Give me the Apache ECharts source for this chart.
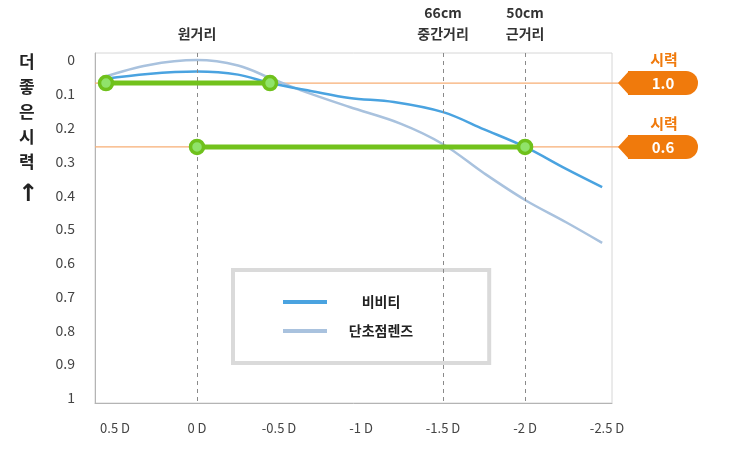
<!DOCTYPE html>
<html>
<head>
<meta charset="utf-8">
<script src="https://cdn.jsdelivr.net/npm/echarts@6/dist/echarts.min.js"></script>
<style>
  html, body { margin: 0; padding: 0; background: #fff; }
  #chart { width: 730px; height: 460px; }
</style>
</head>
<body>
<div id="chart"></div>
<script>
// 곡선 데이터 (x: 디옵터, y: 시력 눈금)
const bbtX = [0.57, 0.3, 0, -0.25, -0.445, -0.7, -0.93, -1.2, -1.5, -1.75, -2, -2.25, -2.47]
const bbtY = [0.056, 0.041, 0.034, 0.043, 0.068, 0.092, 0.112, 0.124, 0.154, 0.205, 0.257, 0.322, 0.376]
const monoX = [0.57, 0.3, 0, -0.25, -0.445, -0.63, -0.93, -1.24, -1.5, -1.75, -2, -2.25, -2.47]
const monoY = [0.05, 0.015, 0, 0.016, 0.053, 0.089, 0.139, 0.188, 0.249, 0.335, 0.414, 0.48, 0.541]

// 초록 구간
const rangeFarX = [0.555, -0.445]
const rangeNearX = [0, -2]

// 시력 기준선
const levelValues = [0.068, 0.257]
const levelLabels = ['1.0', '0.6']

// 눈금
const xTickValues = [0.5, 0, -0.5, -1, -1.5, -2, -2.5]
const xTickLabels = ['0.5 D', '0 D', '-0.5 D', '-1 D', '-1.5 D', '-2 D', '-2.5 D']
const yTickValues = [0, 0.1, 0.2, 0.3, 0.4, 0.5, 0.6, 0.7, 0.8, 0.9, 1]
const yTickLabels = ['0', '0.1', '0.2', '0.3', '0.4', '0.5', '0.6', '0.7', '0.8', '0.9', '1']
const distValues = [0, -1.5, -2]
const distLabels = ['원거리', '66cm\n중간거리', '50cm\n근거리']

const seriesNames = ['비비티', '단초점렌즈']

const FONT = '"Noto Sans CJK KR", "Noto Sans", sans-serif'
const ORANGE = '#f07a0c'

const zip = (xs, ys) => xs.map((x, i) => [x, ys[i]])
const labelOf = (vals, labels) => v => {
  const i = vals.findIndex(t => Math.abs(t - v) < 1e-6)
  return i < 0 ? '' : labels[i]
}

const chart = echarts.init(document.getElementById('chart'))

const option = {
  animation: false,
  textStyle: { fontFamily: FONT },
  title: [
    {
      text: '더\n좋\n은\n시\n력',
      left: 14, top: 44,
      textStyle: { fontSize: 17, fontWeight: 'bold', color: '#222', lineHeight: 25, fontFamily: FONT }
    },
    {
      text: '↑',
      left: 13, top: 178,
      textStyle: { fontSize: 24, fontWeight: 'bold', color: '#222', fontFamily: 'DejaVu Sans' }
    }
  ],
  grid: {
    left: 95, right: 118, top: 53, bottom: 57,
    show: true, borderColor: '#d6d6d6', borderWidth: 1
  },
  legend: {
    data: seriesNames,
    orient: 'vertical',
    left: 233, top: 270,
    padding: [25, 76, 25, 50],
    borderColor: '#dadada', borderWidth: 4,
    backgroundColor: '#fff',
    icon: 'rect',
    itemWidth: 44, itemHeight: 4, itemGap: 15,
    formatter: name => '{c|' + name + '}',
    textStyle: {
      fontSize: 14, fontWeight: 'bold', color: '#222', fontFamily: FONT,
      rich: { c: { width: 98, align: 'center', fontSize: 14, fontWeight: 'bold', color: '#222', fontFamily: FONT } }
    }
  },
  xAxis: [
    {
      type: 'value', inverse: true, min: -2.53, max: 0.622,
      axisLine: { onZero: false, lineStyle: { color: '#b4b4b4' } },
      axisTick: { show: false },
      splitLine: { show: false },
      axisLabel: {
        customValues: xTickValues,
        formatter: labelOf(xTickValues, xTickLabels),
        color: '#444', fontSize: 13, margin: 19
      }
    },
    {
      type: 'value', inverse: true, min: -2.53, max: 0.622, position: 'top',
      axisLine: { show: false, onZero: false },
      axisTick: { show: false },
      splitLine: { show: false },
      axisLabel: {
        customValues: distValues,
        formatter: labelOf(distValues, distLabels),
        color: '#333', fontSize: 14, fontWeight: 'bold', lineHeight: 21, margin: 9
      }
    }
  ],
  yAxis: {
    type: 'value', inverse: true, min: -0.021, max: 1.015,
    axisLine: { show: true, onZero: false, lineStyle: { color: '#b4b4b4' } },
    axisTick: { show: false },
    splitLine: { show: false },
    axisLabel: {
      customValues: yTickValues,
      formatter: labelOf(yTickValues, yTickLabels),
      color: '#444', fontSize: 14, margin: 20
    }
  },
  series: [
    {
      // 기준선 + 오른쪽 시력 태그
      type: 'custom',
      clip: false,
      silent: true,
      z: 1,
      data: levelValues.map((v, i) => [0, v, i]),
      renderItem(params, api) {
        const cs = params.coordSys
        const y = api.coord([0, api.value(1)])[1]
        const xR = cs.x + cs.width
        const label = levelLabels[api.value(2)]
        return {
          type: 'group',
          children: [
            { type: 'line', shape: { x1: cs.x, y1: y, x2: xR + 8, y2: y }, style: { stroke: '#f7ae74', lineWidth: 1.2 } },
            { type: 'polygon', shape: { points: [[xR + 6, y], [xR + 17, y - 12], [xR + 17, y + 12]] }, style: { fill: ORANGE } },
            { type: 'rect', shape: { x: xR + 16, y: y - 12, width: 70, height: 24, r: [0, 12, 12, 0] }, style: { fill: ORANGE } },
            { type: 'text', style: { x: xR + 51, y: y, text: label, fill: '#fff', font: 'bold 15px ' + FONT, align: 'center', verticalAlign: 'middle' } },
            { type: 'text', style: { x: xR + 52, y: y - 24, text: '시력', fill: ORANGE, font: 'bold 15px ' + FONT, align: 'center', verticalAlign: 'middle' } }
          ]
        }
      }
    },
    {
      name: seriesNames[0],
      type: 'line',
      smooth: 0.35,
      showSymbol: false,
      z: 3,
      data: zip(bbtX, bbtY),
      lineStyle: { color: '#4aa3e0', width: 2.5 },
      itemStyle: { color: '#4aa3e0' },
      markLine: {
        silent: true,
        symbol: ['none', 'none'],
        label: { show: false },
        lineStyle: { color: '#8a8a8a', type: [4, 4], width: 1 },
        data: distValues.map(v => ({ xAxis: v }))
      }
    },
    {
      name: seriesNames[1],
      type: 'line',
      smooth: 0.35,
      showSymbol: false,
      z: 2,
      data: zip(monoX, monoY),
      lineStyle: { color: '#a9c2de', width: 2.5 },
      itemStyle: { color: '#a9c2de' }
    },
    ...[rangeFarX, rangeNearX].map((xs, i) => ({
      type: 'line',
      z: 5,
      symbol: 'circle',
      symbolSize: 13,
      data: xs.map(x => [x, levelValues[i]]),
      lineStyle: { color: '#72c21c', width: 5 },
      itemStyle: { color: '#90e36a', borderColor: '#6fc11c', borderWidth: 3.5 }
    }))
  ]
}

chart.setOption(option)
</script>
</body>
</html>
